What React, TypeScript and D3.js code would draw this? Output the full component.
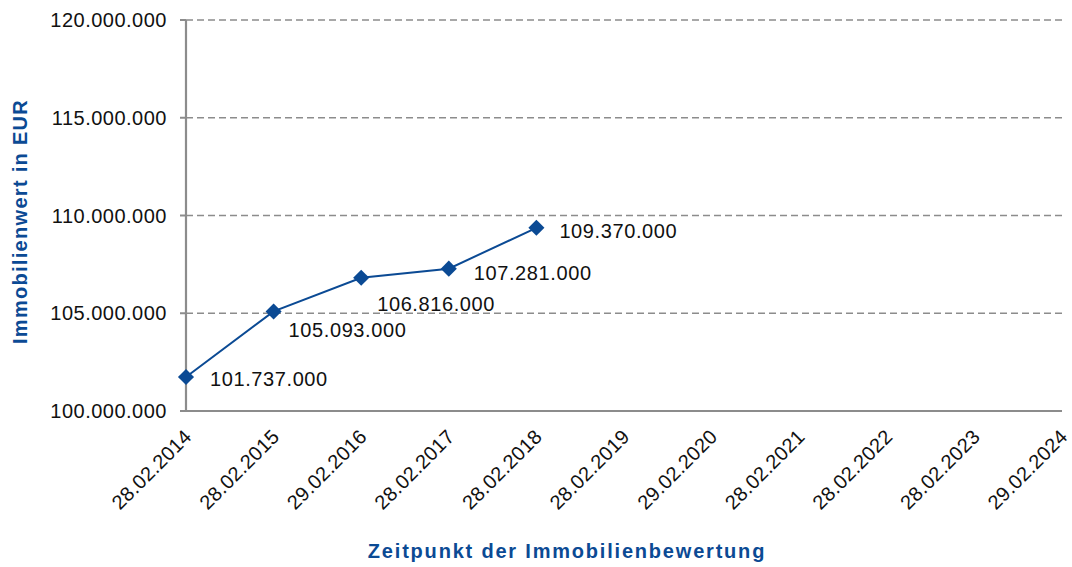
import React from "react";
import * as d3 from "d3";

const categories = [
  "28.02.2014", "28.02.2015", "29.02.2016", "28.02.2017", "28.02.2018", "28.02.2019",
  "29.02.2020", "28.02.2021", "28.02.2022", "28.02.2023", "29.02.2024",
];
const values = [101737000, 105093000, 106816000, 107281000, 109370000];
const yTicks = [100000000, 105000000, 110000000, 115000000, 120000000];
// label offsets (dx, dy) relative to the point, as placed in the original
const labelOffsets: [number, number][] = [
  [24, 2], [15, 19], [16, 26], [25, 4], [23, 3],
];

const W = 1072, H = 567;
const M = { left: 186, right: 1062, top: 20, bottom: 411 };
const BLUE = "#0b4a94";
const FONT = "Liberation Sans, Arial, sans-serif";

const fmt = (v: number) =>
  Math.round(v).toString().replace(/\B(?=(\d{3})+(?!\d))/g, ".");

export default function App() {
  const x = d3.scalePoint<string>().domain(categories).range([M.left, M.right]);
  const y = d3.scaleLinear().domain([100000000, 120000000]).range([M.bottom, M.top]);
  const pts = values.map((v, i) => [x(categories[i])!, y(v)] as [number, number]);
  const line = d3.line()(pts) ?? "";
  const diamond = d3.symbol().type(d3.symbolDiamond2).size(165)() ?? "";

  return (
    <svg width={W} height={H} style={{ position: "absolute", left: 0, top: 0 }} fontFamily={FONT}>
      <rect width={W} height={H} fill="#fff" />
      {yTicks.map((t) => (
        <g key={t}>
          {t > 100000000 && (
            <line x1={M.left} x2={M.right} y1={y(t)} y2={y(t)} stroke="#8c8c8c" strokeWidth={1.6} strokeDasharray="7,4" />
          )}
          <line x1={M.left - 6} x2={M.left} y1={y(t)} y2={y(t)} stroke="#8c8c8c" strokeWidth={2} />
          <text x={M.left - 19} y={y(t)} dy="0.35em" textAnchor="end" fontSize={20} letterSpacing={0.5} fill="#111">
            {fmt(t)}
          </text>
        </g>
      ))}
      <line x1={M.left} x2={M.left} y1={M.top} y2={M.bottom} stroke="#8c8c8c" strokeWidth={2.2} />
      <line x1={M.left} x2={M.right} y1={M.bottom} y2={M.bottom} stroke="#8c8c8c" strokeWidth={2.2} />
      {categories.map((c) => (
        <text
          key={c}
          transform={`translate(${x(c)! + 2},${M.bottom + 22}) rotate(-45)`}
          textAnchor="end"
          dy="0.35em"
          fontSize={20}
          letterSpacing={0.3}
          fill="#111"
        >
          {c}
        </text>
      ))}
      <path d={line} fill="none" stroke={BLUE} strokeWidth={2} />
      {pts.map(([px, py], i) => (
        <g key={i}>
          <path d={diamond} transform={`translate(${px},${py})`} fill={BLUE} />
          <text x={px + labelOffsets[i][0]} y={py + labelOffsets[i][1]} dy="0.35em" fontSize={20} letterSpacing={0.6} fill="#111">
            {fmt(values[i])}
          </text>
        </g>
      ))}
      <text
        transform={`translate(27,${(M.top + M.bottom) / 2 + 6}) rotate(-90)`}
        textAnchor="middle"
        fontSize={20}
        fontWeight="bold"
        letterSpacing={1.3}
        fill={BLUE}
      >
        Immobilienwert in EUR
      </text>
      <text x={567} y={558} textAnchor="middle" fontSize={20} fontWeight="bold" letterSpacing={1.8} fill={BLUE}>
        Zeitpunkt der Immobilienbewertung
      </text>
    </svg>
  );
}
